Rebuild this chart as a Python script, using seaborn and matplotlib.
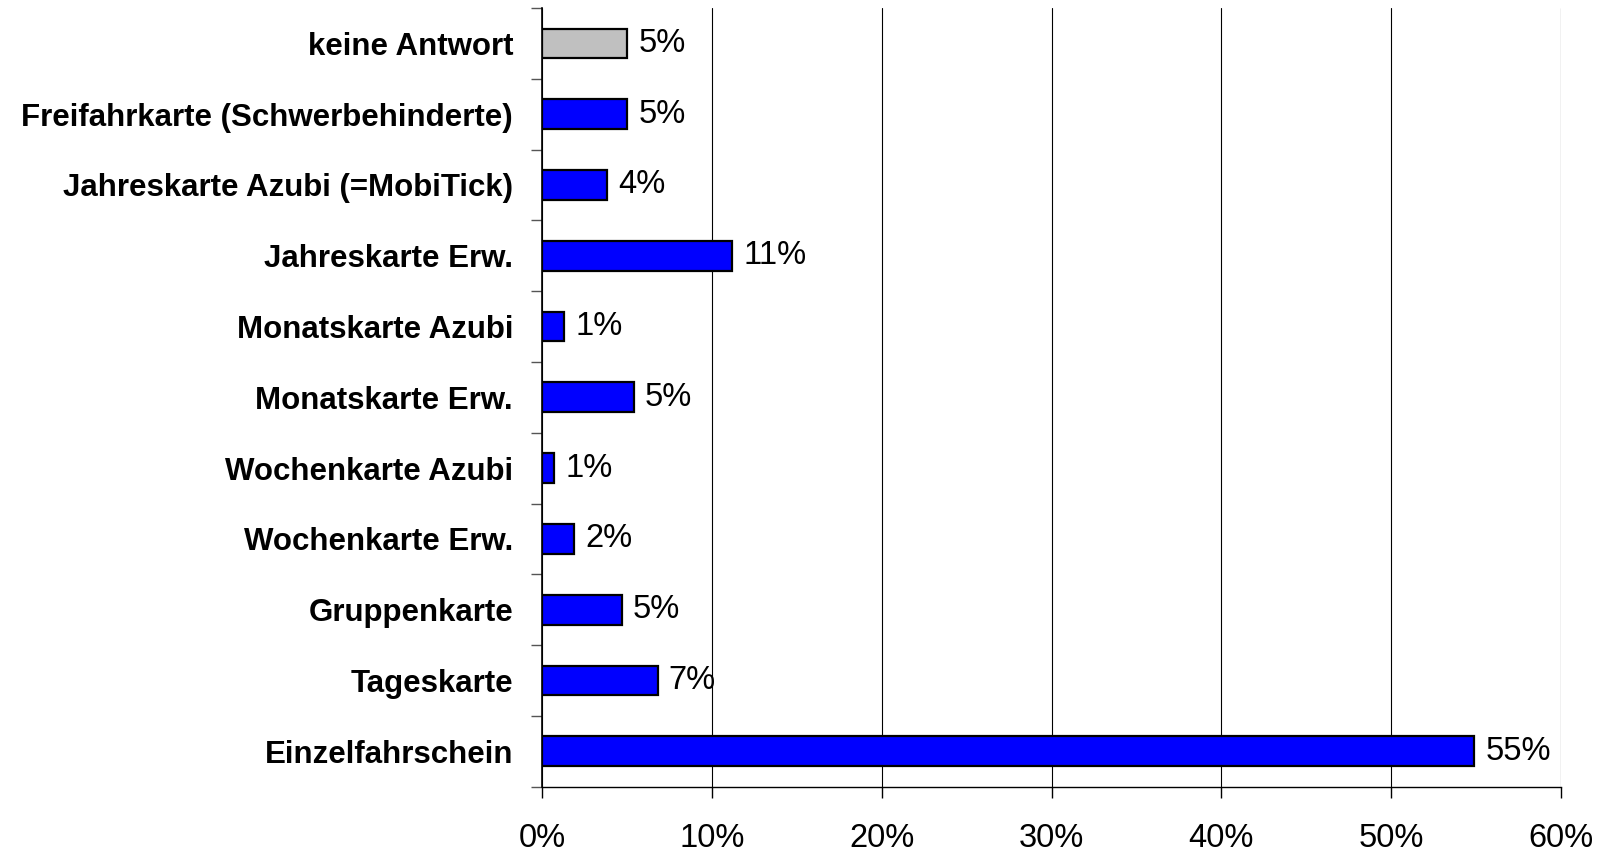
import numpy as np
import pandas as pd
import matplotlib
matplotlib.use("Agg")
import matplotlib.pyplot as plt
import seaborn as sns
from matplotlib.ticker import FuncFormatter, FixedLocator

# data (percent of respondents)
categories = [
    "keine Antwort",
    "Freifahrkarte (Schwerbehinderte)",
    "Jahreskarte Azubi (=MobiTick)",
    "Jahreskarte Erw.",
    "Monatskarte Azubi",
    "Monatskarte Erw.",
    "Wochenkarte Azubi",
    "Wochenkarte Erw.",
    "Gruppenkarte",
    "Tageskarte",
    "Einzelfahrschein",
]
shares = [5.0, 5.0, 3.8, 11.2, 1.3, 5.4, 0.7, 1.9, 4.7, 6.8, 54.9]
bar_colors = ["#C0C0C0"] + ["#0000FF"] * 10
xticks = [0, 10, 20, 30, 40, 50, 60]

df = pd.DataFrame({"ticket": categories, "share": shares})

sns.set_style("white")
plt.rcParams["font.family"] = ["Liberation Sans", "DejaVu Sans"]
plt.rcParams["text.color"] = "black"
plt.rcParams["xtick.color"] = "black"
plt.rcParams["ytick.color"] = "black"

fig = plt.figure(figsize=(16.06, 8.52), dpi=100)
ax = fig.add_axes([0.3376, 0.0767, 0.6343, 0.9139])

sns.barplot(data=df, x="share", y="ticket", hue="ticket", palette=bar_colors,
            legend=False, orient="h", width=0.42, edgecolor="black",
            linewidth=1.6, saturation=1, ax=ax, zorder=3)

for cont in ax.containers:
    ax.bar_label(cont, labels=[f"{v:.0f}%" for v in cont.datavalues],
                 padding=8, fontsize=23.5, color="black", zorder=4)

ax.set_xlim(0, 60)
ax.set_ylim(len(categories) - 0.5, -0.5)
ax.xaxis.set_major_locator(FixedLocator(xticks))
ax.xaxis.set_major_formatter(FuncFormatter(lambda v, p: f"{v:.0f}%"))
ax.tick_params(axis="x", labelsize=23.5, length=8, width=1, color="black",
               labelcolor="black", direction="out", pad=18, bottom=True)

# category ticks sit on the boundaries between bars
ax.set_yticks(range(len(categories)))
ax.set_yticklabels(categories, fontweight="bold", fontsize=22.5, color="black")
ax.tick_params(axis="y", which="major", length=0, pad=21)
ax.yaxis.set_minor_locator(FixedLocator(np.arange(-0.5, len(categories), 1.0)))
ax.tick_params(axis="y", which="minor", length=8, width=1, color="#555555",
               direction="out", left=True)

ax.grid(axis="x", color="black", linewidth=0.8, zorder=0)
ax.grid(axis="y", visible=False)
ax.set_axisbelow(True)

ax.set_xlabel("")
ax.set_ylabel("")
for side in ["top", "right"]:
    ax.spines[side].set_visible(False)
ax.spines["left"].set_color("black")
ax.spines["left"].set_linewidth(1.2)
ax.spines["bottom"].set_color("black")
ax.spines["bottom"].set_linewidth(1.0)

fig.savefig("out.png", dpi=100)
plt.close(fig)
